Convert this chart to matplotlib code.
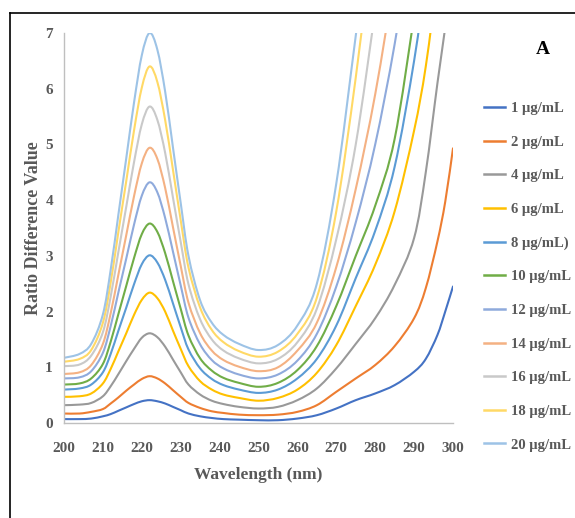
import numpy as np
import matplotlib
matplotlib.use("Agg")
import matplotlib.pyplot as plt
from matplotlib.lines import Line2D
from matplotlib.path import Path
from matplotlib.patches import PathPatch

# wavelength grid (nm) and ratio difference values
wavelength = [200, 204, 207, 210, 212, 214, 216, 218, 220, 222, 224, 226, 228, 230,
              232, 235, 238, 241, 245, 250, 255, 260, 265, 270, 275, 280, 285, 290,
              293, 296, 298, 300]

nan = np.nan
c1 = [0.07, 0.07, 0.08, 0.12, 0.16, 0.22, 0.28, 0.34, 0.39, 0.41, 0.39, 0.35, 0.29, 0.23,
      0.17, 0.12, 0.09, 0.07, 0.06, 0.05, 0.05, 0.08, 0.14, 0.26, 0.41, 0.53, 0.68, 0.92,
      1.15, 1.58, 2.00, 2.45]
c2 = [0.17, 0.17, 0.20, 0.25, 0.35, 0.46, 0.58, 0.69, 0.79, 0.84, 0.80, 0.71, 0.59, 0.47,
      0.36, 0.27, 0.21, 0.18, 0.15, 0.14, 0.15, 0.20, 0.32, 0.56, 0.80, 1.04, 1.38, 1.88,
      2.42, 3.26, 3.97, 4.93]
c4 = [0.32, 0.33, 0.36, 0.48, 0.66, 0.88, 1.11, 1.33, 1.53, 1.61, 1.54, 1.37, 1.14, 0.91,
      0.69, 0.51, 0.40, 0.34, 0.29, 0.26, 0.29, 0.41, 0.62, 0.98, 1.42, 1.88, 2.48, 3.32,
      4.50, 6.10, 7.10, 8.20]
c6 = [0.47, 0.48, 0.53, 0.71, 0.97, 1.29, 1.61, 1.94, 2.21, 2.34, 2.24, 2.00, 1.66, 1.33,
      1.02, 0.75, 0.60, 0.51, 0.45, 0.40, 0.45, 0.60, 0.90, 1.40, 2.10, 2.84, 3.80, 5.25,
      6.40, 8.00, nan, nan]
c8 = [0.60, 0.62, 0.69, 0.91, 1.24, 1.66, 2.07, 2.49, 2.85, 3.01, 2.88, 2.57, 2.15, 1.72,
      1.32, 0.98, 0.79, 0.68, 0.60, 0.54, 0.60, 0.80, 1.15, 1.75, 2.60, 3.45, 4.60, 6.50,
      8.00, nan, nan, nan]
c10 = [0.69, 0.71, 0.80, 1.06, 1.46, 1.96, 2.46, 2.96, 3.39, 3.58, 3.43, 3.05, 2.55, 2.05,
       1.57, 1.16, 0.94, 0.81, 0.72, 0.65, 0.72, 0.95, 1.38, 2.10, 3.00, 3.90, 5.10, 7.30,
       nan, nan, nan, nan]
c12 = [0.80, 0.82, 0.93, 1.26, 1.74, 2.35, 2.95, 3.56, 4.08, 4.32, 4.14, 3.68, 3.08, 2.47,
       1.89, 1.41, 1.13, 0.98, 0.87, 0.80, 0.87, 1.12, 1.60, 2.45, 3.60, 5.00, 6.80, 9.00,
       nan, nan, nan, nan]
c14 = [0.88, 0.91, 1.04, 1.42, 1.97, 2.67, 3.37, 4.07, 4.66, 4.94, 4.74, 4.22, 3.52, 2.82,
       2.16, 1.61, 1.30, 1.13, 1.01, 0.93, 1.00, 1.30, 1.80, 2.80, 4.20, 5.90, 8.00, nan,
       nan, nan, nan, nan]
c16 = [1.02, 1.05, 1.21, 1.63, 2.27, 3.08, 3.88, 4.68, 5.36, 5.68, 5.44, 4.85, 4.05, 3.25,
       2.49, 1.86, 1.50, 1.30, 1.16, 1.07, 1.15, 1.45, 2.05, 3.30, 5.00, 7.40, nan, nan,
       nan, nan, nan, nan]
c18 = [1.10, 1.15, 1.31, 1.80, 2.52, 3.44, 4.34, 5.25, 6.02, 6.40, 6.12, 5.44, 4.55, 3.64,
       2.79, 2.07, 1.67, 1.45, 1.29, 1.19, 1.28, 1.60, 2.25, 3.80, 6.20, 9.00, nan, nan,
       nan, nan, nan, nan]
c20 = [1.17, 1.24, 1.42, 1.95, 2.75, 3.75, 4.75, 5.75, 6.60, 7.00, 6.70, 5.95, 4.95, 3.95,
       3.00, 2.20, 1.80, 1.58, 1.42, 1.31, 1.40, 1.75, 2.50, 4.30, 6.95, 9.60, nan, nan,
       nan, nan, nan, nan]

labels = ['1 µg/mL', '2 µg/mL', '4 µg/mL', '6 µg/mL', '8 µg/mL)', '10 µg/mL',
          '12 µg/mL', '14 µg/mL', '16 µg/mL', '18 µg/mL', '20 µg/mL']
series = [c1, c2, c4, c6, c8, c10, c12, c14, c16, c18, c20]
colors = ['#4472C4', '#ED7D31', '#999999', '#FFC000', '#5B9BD5', '#70AD47',
          '#8FAADC', '#F4B183', '#C9C9C9', '#FFD966', '#9DC3E6']

xticks = list(range(200, 301, 10))
yticks = list(range(0, 8))


def smooth_path(x, y):
    """Excel-style smoothed line: Catmull-Rom segments drawn as cubic Beziers."""
    x = np.asarray(x, float)
    y = np.asarray(y, float)
    keep = ~np.isnan(y)
    pts = np.column_stack([x[keep], y[keep]])
    n = len(pts)
    verts = [pts[0]]
    codes = [Path.MOVETO]
    for i in range(n - 1):
        p0 = pts[max(i - 1, 0)]
        p1 = pts[i]
        p2 = pts[i + 1]
        p3 = pts[min(i + 2, n - 1)]
        verts += [p1 + (p2 - p0) / 6.0, p2 - (p3 - p1) / 6.0, p2]
        codes += [Path.CURVE4] * 3
    return Path(verts, codes)


plt.rcParams['font.family'] = ['Liberation Serif', 'DejaVu Serif']
text_color = '#595959'

fig = plt.figure(figsize=(5.75, 5.18), dpi=100)
ax = fig.add_axes([64 / 575, 95 / 518, 389 / 575, 390 / 518])

handles = []
for vals, lab, col in zip(series, labels, colors):
    ax.add_patch(PathPatch(smooth_path(wavelength, vals), facecolor='none',
                           edgecolor=col, linewidth=1.5, joinstyle='round',
                           capstyle='round'))
    handles.append(Line2D([], [], color=col, linewidth=1.8, label=lab))

ax.set_xlim(200, 300)
ax.set_ylim(0, 7)
ax.set_xticks(xticks)
ax.set_yticks(yticks)
ax.tick_params(length=0, labelsize=11, labelcolor=text_color)
ax.tick_params(axis='x', pad=14)
ax.tick_params(axis='y', pad=8)
for t in ax.get_xticklabels() + ax.get_yticklabels():
    t.set_fontweight('bold')

for s in ['top', 'right']:
    ax.spines[s].set_visible(False)
for s in ['left', 'bottom']:
    ax.spines[s].set_color('#BFBFBF')
    ax.spines[s].set_linewidth(1.0)

ax.set_xlabel('Wavelength (nm)', fontsize=12.5, fontweight='bold', color=text_color, labelpad=8)
ax.set_ylabel('Ratio Difference Value', fontsize=13, fontweight='bold', color=text_color, labelpad=2)

fig.text(543 / 575, 1 - 50 / 518, 'A', fontsize=14, fontweight='bold',
         ha='center', va='center', color='black')

leg = fig.legend(handles=handles, loc='upper left', bbox_to_anchor=(478 / 575, 1 - 96 / 518),
                 frameon=False, fontsize=10.5, handlelength=1.45, handletextpad=0.4,
                 labelspacing=1.4, borderaxespad=0)
for t in leg.get_texts():
    t.set_fontweight('bold')
    t.set_color(text_color)

# outer frame lines (top and left) as in the original
fig.add_artist(Line2D([10 / 575, 1.0], [1 - 13 / 518, 1 - 13 / 518],
                      transform=fig.transFigure, color='black', linewidth=1.2))
fig.add_artist(Line2D([10 / 575, 10 / 575], [0, 1 - 13 / 518],
                      transform=fig.transFigure, color='black', linewidth=1.2))

fig.savefig('out.png', dpi=100)
